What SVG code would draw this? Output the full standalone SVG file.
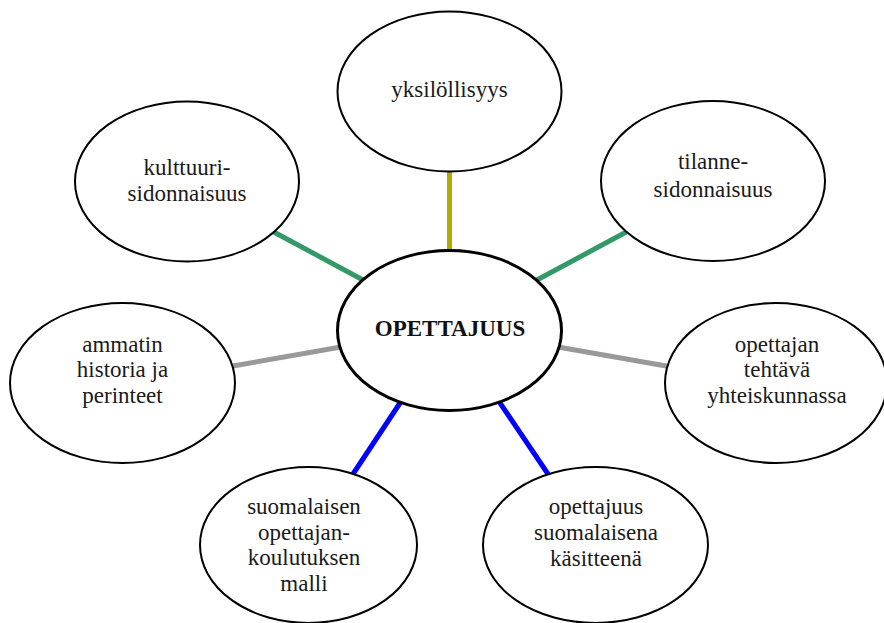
<svg xmlns="http://www.w3.org/2000/svg" width="884" height="623" viewBox="0 0 884 623">
<style>
.node ellipse{fill:#fff;stroke:#000;stroke-width:2}
#center ellipse{stroke-width:3}
text{font-family:'Liberation Serif','Times New Roman',serif;font-size:23px;fill:#1a1a1a;text-anchor:middle}
.bold{font-weight:bold;fill:#111}
.c{stroke-width:5;fill:none}
.yel{stroke:#b3a900}
.grn{stroke:#339966}
.gry{stroke:#999999}
.blu{stroke:#0000ff}
</style>
<rect width="884" height="623" fill="#fff"/>
<g id="connectors">
<line class="c yel" x1="449.5" y1="168" x2="449.5" y2="253"/>
<line class="c grn" x1="271" y1="230.5" x2="364" y2="280.5"/>
<line class="c grn" x1="629" y1="230.5" x2="536" y2="280.5"/>
<line class="c gry" x1="230" y1="366.5" x2="341" y2="347"/>
<line class="c gry" x1="558" y1="347" x2="669" y2="366.5"/>
<line class="c blu" x1="402" y1="400" x2="353" y2="474"/>
<line class="c blu" x1="498" y1="400" x2="548" y2="474"/>
</g>
<g id="n-yksilollisyys" class="node">
<ellipse cx="449.5" cy="91.5" rx="112" ry="80"/>
<text x="449.5" y="97">yksilöllisyys</text>
</g>
<g id="n-kulttuuri" class="node">
<ellipse cx="187" cy="181.5" rx="112" ry="80"/>
<text x="187" y="175">kulttuuri-</text>
<text x="187" y="201">sidonnaisuus</text>
</g>
<g id="n-tilanne" class="node">
<ellipse cx="713" cy="181" rx="112" ry="80"/>
<text x="713" y="169">tilanne-</text>
<text x="713" y="197">sidonnaisuus</text>
</g>
<g id="n-ammatin" class="node">
<ellipse cx="122.5" cy="383" rx="112.5" ry="80"/>
<text x="122.5" y="352">ammatin</text>
<text x="122.5" y="377">historia ja</text>
<text x="122.5" y="403">perinteet</text>
</g>
<g id="n-tehtava" class="node">
<ellipse cx="776" cy="383" rx="111" ry="80"/>
<text x="777" y="352">opettajan</text>
<text x="777" y="377">tehtävä</text>
<text x="777" y="403">yhteiskunnassa</text>
</g>
<g id="n-malli" class="node">
<ellipse cx="308.5" cy="545" rx="108.5" ry="78"/>
<text x="304" y="514">suomalaisen</text>
<text x="304" y="539.5">opettajan-</text>
<text x="304" y="565">koulutuksen</text>
<text x="304" y="590.5">malli</text>
</g>
<g id="n-kasite" class="node">
<ellipse cx="595.5" cy="545" rx="112.5" ry="78"/>
<text x="596" y="513.5">opettajuus</text>
<text x="596" y="539.5">suomalaisena</text>
<text x="596" y="565.5">käsitteenä</text>
</g>
<g id="center" class="node">
<ellipse cx="449.5" cy="330.5" rx="112" ry="80"/>
<text class="bold" x="450" y="336">OPETTAJUUS</text>
</g>
</svg>
